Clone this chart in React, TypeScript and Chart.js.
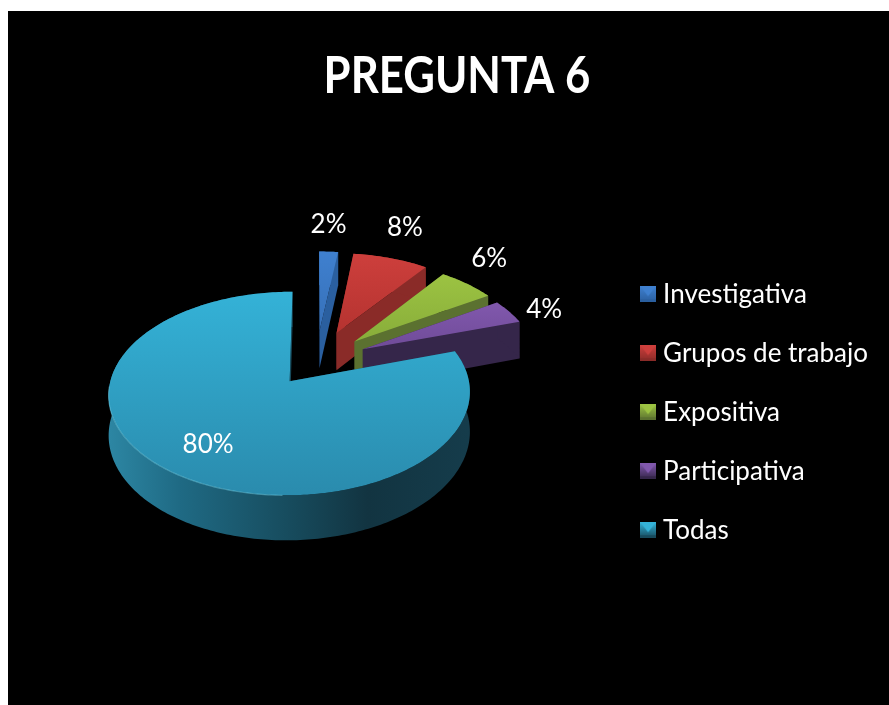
import React, { useEffect, useRef } from "react";
import { Chart, registerables } from "chart.js";

Chart.register(...registerables);

const FONT = "Lato, 'Open Sans', sans-serif";

const categories = ["Investigativa", "Grupos de trabajo", "Expositiva", "Participativa", "Todas"];
const percentages = [2, 8, 6, 4, 80];
const explode = [33, 33, 31, 30, 25];
const labelReach = [1.39, 1.46, 1.37, 1.21, 0.72];
const labelTurn = [-0.9, -2.1, -5.3, 3.2, -1.1];

const baseColors = ["#3a78c2", "#c23b38", "#8fb53c", "#7650a0", "#2f9fc4"];
const topLight = ["#3f80cf", "#cd3f3c", "#9cc342", "#8158ad", "#34b2d7"];
const topDark = ["#3670b8", "#b53330", "#88ad3a", "#6f4b98", "#2a8bad"];
const sideColors = ["#2a5f9f", "#8a2b28", "#5b7130", "#35264a", "#174a5c"];
const tealWallStops = ["#2d87a4", "#1f6a84", "#174c5e", "#123441", "#153c4b"];

// Perspective projection of the pie's plane onto the picture (canvas pixels)
const VIEW = { x0: 308, y0: 350.4, a: 175, b: 95.6, k: 0.118, depth: 38.6 };
const TITLE_SQUEEZE = 0.84;

function project(u: number, v: number, z = 0) {
  const s = 1 / (1 + VIEW.k * v);
  return { x: VIEW.x0 + VIEW.a * u * s, y: VIEW.y0 - VIEW.b * v * s + z * s };
}

function geometry(el: any) {
  const e = (el.options.offset || 0) / 100;
  const mid = (el.startAngle + el.endAngle) / 2;
  const cu = e * Math.cos(mid);
  const cv = -e * Math.sin(mid);
  const n = Math.max(8, Math.ceil(((el.endAngle - el.startAngle) * 180) / Math.PI));
  const rim: { u: number; v: number; deg: number }[] = [];
  for (let i = 0; i <= n; i++) {
    const t = el.startAngle + ((el.endAngle - el.startAngle) * i) / n;
    rim.push({ u: cu + Math.cos(t), v: cv - Math.sin(t), deg: (t * 180) / Math.PI + 90 });
  }
  return { cu, cv, mid, rim };
}

function trace(ctx: CanvasRenderingContext2D, pts: { x: number; y: number }[]) {
  ctx.beginPath();
  pts.forEach((p, i) => (i ? ctx.lineTo(p.x, p.y) : ctx.moveTo(p.x, p.y)));
  ctx.closePath();
}

const pie3d = {
  id: "pie3d",
  afterLayout(chart: any) {
    const box = chart.titleBlock;
    if (!box || box.__squeezed) return;
    const original = box.draw;
    box.__squeezed = true;
    box.draw = function (...args: any[]) {
      const ctx = chart.ctx;
      const c = (box.left + box.right) / 2;
      ctx.save();
      ctx.translate(c, 0);
      ctx.scale(TITLE_SQUEEZE, 1);
      ctx.translate(-c, 0);
      original.apply(box, args);
      ctx.restore();
    };
  },
  beforeDatasetsDraw(chart: any) {
    const ctx: CanvasRenderingContext2D = chart.ctx;
    const meta = chart.getDatasetMeta(0);
    const geos = meta.data.map(geometry);

    // walls first
    geos.forEach((g: any, i: number) => {
      const apexTop = project(g.cu, g.cv);
      const apexLow = project(g.cu, g.cv, VIEW.depth);
      const first = g.rim[0];
      const last = g.rim[g.rim.length - 1];
      ctx.fillStyle = sideColors[i];
      [first, last].forEach((p: any) => {
        trace(ctx, [apexTop, project(p.u, p.v), project(p.u, p.v, VIEW.depth), apexLow]);
        ctx.fill();
      });
      const upper = g.rim.map((p: any) => project(p.u, p.v));
      const lower = g.rim.map((p: any) => project(p.u, p.v, VIEW.depth)).reverse();
      if (i === 4) {
        const grad = ctx.createLinearGradient(99, 0, 461, 0);
        tealWallStops.forEach((c, j) => grad.addColorStop([0, 0.2, 0.5, 0.72, 1][j], c));
        ctx.fillStyle = grad;
      }
      trace(ctx, [...upper, ...lower]);
      ctx.fill();
    });

    // top faces
    geos.forEach((g: any, i: number) => {
      const pts = [project(g.cu, g.cv), ...g.rim.map((p: any) => project(p.u, p.v))];
      const ys = pts.map((p: any) => p.y);
      const grad = ctx.createLinearGradient(0, Math.min(...ys), 0, Math.max(...ys));
      grad.addColorStop(0, topLight[i]);
      grad.addColorStop(1, topDark[i]);
      ctx.fillStyle = grad;
      trace(ctx, pts);
      ctx.fill();
      if (i === 4) {
        // soft highlight along the lower-left front edge only
        ctx.strokeStyle = "rgba(110,205,230,0.5)";
        ctx.lineWidth = 1.2;
        ctx.beginPath();
        g.rim
          .filter((p: any) => p.deg > 180 && p.deg < 268)
          .map((p: any) => project(p.u, p.v))
          .forEach((p: any, j: number) => (j ? ctx.lineTo(p.x, p.y) : ctx.moveTo(p.x, p.y)));
        ctx.stroke();
      }
    });

    // value labels
    ctx.fillStyle = "#ffffff";
    ctx.font = `26px ${FONT}`;
    ctx.textAlign = "center";
    ctx.textBaseline = "middle";
    geos.forEach((g: any, i: number) => {
      const r = labelReach[i];
      const a = g.mid + (labelTurn[i] * Math.PI) / 180;
      const p = project(g.cu + r * Math.cos(a), g.cv - r * Math.sin(a));
      ctx.fillText(`${percentages[i]}%`, p.x, p.y);
    });
    return false;
  },
};

function legendMarker(i: number) {
  const c = document.createElement("canvas");
  c.width = 16;
  c.height = 16;
  const g = c.getContext("2d") as CanvasRenderingContext2D;
  const body = g.createLinearGradient(0, 0, 0, 16);
  body.addColorStop(0, topLight[i]);
  body.addColorStop(1, sideColors[i]);
  g.fillStyle = body;
  g.fillRect(0, 0, 16, 16);
  g.fillStyle = topLight[i];
  g.beginPath();
  g.moveTo(0, 0);
  g.lineTo(16, 0);
  g.lineTo(8, 10);
  g.closePath();
  g.fill();
  g.fillStyle = sideColors[i];
  g.fillRect(0, 13, 16, 3);
  return c;
}

export default function App() {
  const ref = useRef<HTMLCanvasElement>(null);
  useEffect(() => {
    const chart = new Chart(ref.current as HTMLCanvasElement, {
      type: "pie",
      data: {
        labels: categories,
        datasets: [{ data: percentages, backgroundColor: baseColors, offset: explode, borderWidth: 0 }],
      },
      options: {
        responsive: false,
        animation: false,
        layout: { padding: { left: 28, right: 11, top: 0, bottom: 14 } },
        plugins: {
          title: {
            display: true,
            text: "PREGUNTA 6",
            color: "#ffffff",
            font: { family: FONT, size: 52, weight: "bold" },
            padding: { top: 34, bottom: 26 },
          },
          tooltip: { enabled: false },
          legend: {
            position: "right",
            fullSize: false,
            labels: {
              color: "#ffffff",
              font: { family: FONT, size: 26 },
              usePointStyle: true,
              boxWidth: 4,
              padding: 33,
              generateLabels: () =>
                categories.map((text, i) => ({
                  text,
                  index: i,
                  fontColor: "#ffffff",
                  pointStyle: legendMarker(i),
                  lineWidth: 0,
                })),
            },
          },
        },
      },
      plugins: [pie3d],
    } as any);
    return () => chart.destroy();
  }, []);
  return (
    <div style={{ position: "fixed", left: 8, top: 11, width: 881, height: 694, background: "#000" }}>
      <canvas ref={ref} width={881} height={694} style={{ display: "block" }} />
    </div>
  );
}
